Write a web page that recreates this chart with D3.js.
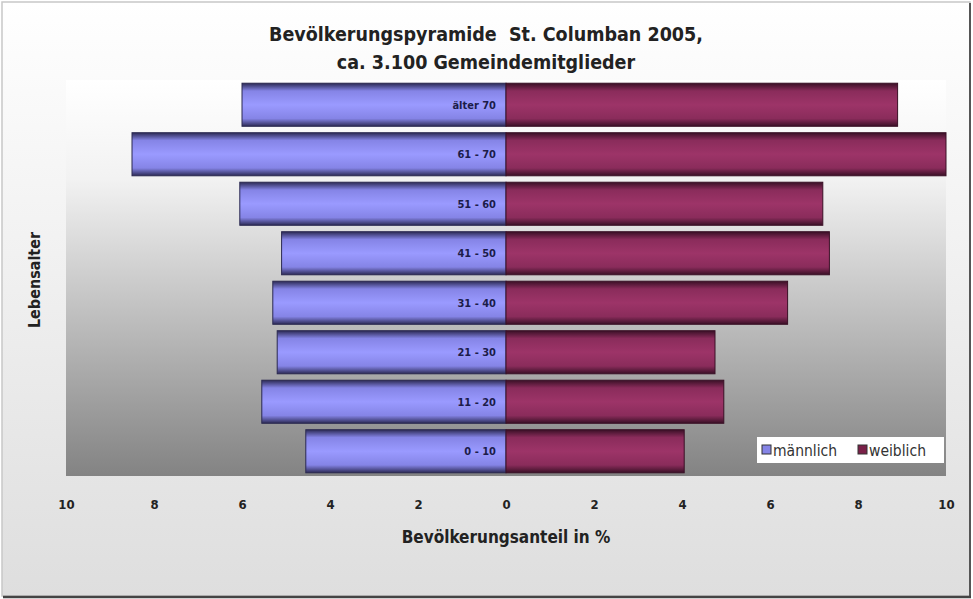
<!DOCTYPE html>
<html>
<head>
<meta charset="utf-8">
<script src="https://cdn.jsdelivr.net/npm/d3@7"></script>
<style>
  body { margin: 0; background: #fff; }
  text { font-family: "Liberation Sans Narrow", "DejaVu Sans Condensed", sans-serif; }
</style>
</head>
<body>
<svg id="chart" width="973" height="599"></svg>
<script>
var ageGroups = ["älter 70", "61 - 70", "51 - 60", "41 - 50", "31 - 40", "21 - 30", "11 - 20", "0 - 10"]
var maleValues = [6.0, 8.5, 6.05, 5.1, 5.3, 5.2, 5.55, 4.55]
var femaleValues = [8.9, 10.0, 7.2, 7.35, 6.4, 4.75, 4.95, 4.05]
var tickValues = [-10, -8, -6, -4, -2, 0, 2, 4, 6, 8, 10]
var legendItems = ["männlich", "weiblich"]

var svg = d3.select("#chart")
var width = 973, height = 599
var plot = { left: 66, right: 946, top: 80, bottom: 476 }

var defs = svg.append("defs")

var bgGrad = defs.append("linearGradient").attr("id", "bg").attr("x1", 0).attr("y1", 0).attr("x2", 0).attr("y2", 1)
bgGrad.append("stop").attr("offset", "0%").attr("stop-color", "#ffffff")
bgGrad.append("stop").attr("offset", "100%").attr("stop-color", "#dedede")

var plotGrad = defs.append("linearGradient").attr("id", "plotbg").attr("x1", 0).attr("y1", 0).attr("x2", 0).attr("y2", 1)
plotGrad.append("stop").attr("offset", "0%").attr("stop-color", "#ffffff")
plotGrad.append("stop").attr("offset", "25%").attr("stop-color", "#f2f2f2")
plotGrad.append("stop").attr("offset", "100%").attr("stop-color", "#838383")

// cylinder-like shading for bars
function barGradient(id, dark, mid, light) {
    var g = defs.append("linearGradient").attr("id", id).attr("x1", 0).attr("y1", 0).attr("x2", 0).attr("y2", 1)
    g.append("stop").attr("offset", "0%").attr("stop-color", dark)
    g.append("stop").attr("offset", "18%").attr("stop-color", mid)
    g.append("stop").attr("offset", "50%").attr("stop-color", light)
    g.append("stop").attr("offset", "82%").attr("stop-color", mid)
    g.append("stop").attr("offset", "100%").attr("stop-color", dark)
}
barGradient("maleGrad", "#2c2a55", "#8584e6", "#9a9aff")
barGradient("femaleGrad", "#3a1026", "#8a2c5b", "#9d3468")

// outer frame
svg.append("rect").attr("x", 2).attr("y", 2).attr("width", width - 5).attr("height", height - 5)
    .attr("fill", "url(#bg)").attr("stroke", "#c8c8c8").attr("stroke-width", 1.5)
svg.append("line").attr("x1", 970).attr("x2", 970).attr("y1", 3).attr("y2", 598).attr("stroke", "#555").attr("stroke-width", 2)
svg.append("line").attr("x1", 3).attr("x2", 971).attr("y1", 597).attr("y2", 597).attr("stroke", "#444").attr("stroke-width", 2.5)

svg.append("rect").attr("x", plot.left).attr("y", plot.top)
    .attr("width", plot.right - plot.left).attr("height", plot.bottom - plot.top)
    .attr("fill", "url(#plotbg)")

var x = d3.scaleLinear().domain([-10, 10]).range([plot.left, plot.right])
var y = d3.scaleBand().domain(ageGroups).range([plot.top, plot.bottom]).paddingInner(0.13).paddingOuter(0.065)

var male = ageGroups.map((d, i) => ({ age: d, v: maleValues[i] }))
var female = ageGroups.map((d, i) => ({ age: d, v: femaleValues[i] }))

svg.append("g").selectAll("rect")
    .data(male)
    .enter().append("rect")
    .attr("x", d => x(-d.v))
    .attr("y", d => y(d.age))
    .attr("width", d => x(0) - x(-d.v))
    .attr("height", y.bandwidth())
    .attr("fill", "url(#maleGrad)")
    .attr("stroke", "#2a2850").attr("stroke-width", 1)

svg.append("g").selectAll("rect")
    .data(female)
    .enter().append("rect")
    .attr("x", x(0))
    .attr("y", d => y(d.age))
    .attr("width", d => x(d.v) - x(0))
    .attr("height", y.bandwidth())
    .attr("fill", "url(#femaleGrad)")
    .attr("stroke", "#3a1026").attr("stroke-width", 1)

// category labels inside male bars
svg.append("g").selectAll("text")
    .data(ageGroups)
    .enter().append("text")
    .attr("x", x(0) - 10)
    .attr("y", d => y(d) + y.bandwidth() / 2 + 4)
    .attr("text-anchor", "end")
    .attr("font-size", 11)
    .attr("font-weight", "bold")
    .attr("fill", "#1c1c4a")
    .text(d => d)

// x axis
var xAxis = d3.axisBottom(x).tickValues(tickValues).tickSize(0).tickPadding(0)
    .tickFormat(d => Math.abs(d))
var ax = svg.append("g").attr("transform", "translate(0," + 500 + ")").call(xAxis)
ax.select(".domain").remove()
ax.selectAll("text")
    .attr("font-family", "'Liberation Sans Narrow', sans-serif")
    .attr("font-size", 13).attr("font-weight", "bold").attr("fill", "#222")

svg.append("text")
    .attr("x", x(0)).attr("y", 543)
    .attr("text-anchor", "middle")
    .attr("font-size", 17).attr("font-weight", "bold").attr("fill", "#222")
    .text("Bevölkerungsanteil in %")

svg.append("text")
    .attr("transform", "translate(40," + 280 + ") rotate(-90)")
    .attr("text-anchor", "middle")
    .attr("font-size", 16).attr("font-weight", "bold").attr("fill", "#222")
    .text("Lebensalter")

// title
svg.append("text")
    .attr("x", 486).attr("y", 41)
    .attr("text-anchor", "middle")
    .attr("font-size", 19.5).attr("font-weight", "bold").attr("fill", "#222")
    .attr("xml:space", "preserve")
    .text("Bevölkerungspyramide  St. Columban 2005,")
svg.append("text")
    .attr("x", 486).attr("y", 69)
    .attr("text-anchor", "middle")
    .attr("font-size", 19.5).attr("font-weight", "bold").attr("fill", "#222")
    .text("ca. 3.100 Gemeindemitglieder")

// legend
var legend = svg.append("g").attr("transform", "translate(757,437)")
legend.append("rect").attr("width", 187).attr("height", 26).attr("fill", "#fff")
var legendColors = ["#8584e6", "#7a2048"]
var legendX = [5, 101]
legendItems.forEach(function (name, i) {
    legend.append("rect").attr("x", legendX[i]).attr("y", 8).attr("width", 9).attr("height", 9)
        .attr("fill", legendColors[i]).attr("stroke", "#333").attr("stroke-width", 1)
    legend.append("text").attr("x", legendX[i] + 11).attr("y", 18.5)
        .attr("font-family", "'DejaVu Sans', sans-serif")
        .attr("font-size", 15.5).attr("fill", "#333")
        .text(name)
})
</script>
</body>
</html>
